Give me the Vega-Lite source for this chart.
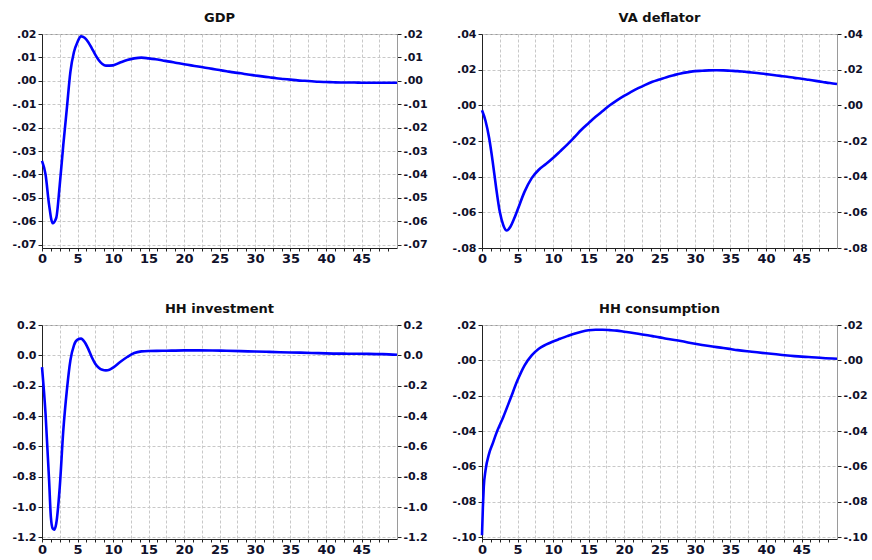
{
  "$schema": "https://vega.github.io/schema/vega-lite/v6.json",
  "background": "white",
  "padding": {"left": 11, "top": 11, "right": 5, "bottom": 5},
  "config": {
    "font": "DejaVu Sans",
    "view": {"stroke": "#9a9a9a", "strokeWidth": 1},
    "title": {"font": "DejaVu Sans", "fontSize": 13, "fontWeight": "bold", "color": "#111111", "anchor": "middle", "frame": "group", "offset": 3},
    "axis": {
      "labelFont": "DejaVu Sans",
      "labelFontSize": 11,
      "labelFontWeight": "bold",
      "labelColor": "#10102a",
      "tickColor": "#222222",
      "tickSize": 4,
      "domainColor": "#222222",
      "gridColor": "#c8c8c8",
      "gridDash": [3, 2],
      "gridWidth": 1,
      "title": null,
      "labelOverlap": false,
      "labelBound": false,
      "labelFlush": false
    },
    "line": {"color": "#0000ff", "strokeWidth": 2.6, "interpolate": "monotone"}
  },
  "datasets": {
    "gdp": [
      {"t": 0, "v": -0.0342}, {"t": 0.5, "v": -0.0400}, {"t": 1, "v": -0.0530}, {"t": 1.5, "v": -0.0608},
      {"t": 2, "v": -0.0586}, {"t": 2.5, "v": -0.0444}, {"t": 3, "v": -0.0274}, {"t": 3.5, "v": -0.0118},
      {"t": 4, "v": 0.0038}, {"t": 4.5, "v": 0.0123}, {"t": 5, "v": 0.0166}, {"t": 5.5, "v": 0.0190},
      {"t": 6, "v": 0.0184}, {"t": 6.5, "v": 0.0166}, {"t": 7, "v": 0.0140}, {"t": 7.5, "v": 0.0112},
      {"t": 8, "v": 0.0088}, {"t": 8.5, "v": 0.0072}, {"t": 9, "v": 0.0065}, {"t": 10, "v": 0.0066},
      {"t": 11, "v": 0.0078}, {"t": 12, "v": 0.0089}, {"t": 13, "v": 0.0096}, {"t": 14, "v": 0.0099},
      {"t": 15, "v": 0.0096}, {"t": 16, "v": 0.0092}, {"t": 17, "v": 0.0087}, {"t": 18, "v": 0.0082},
      {"t": 19, "v": 0.0076}, {"t": 20, "v": 0.0071}, {"t": 21, "v": 0.0066}, {"t": 22, "v": 0.0061},
      {"t": 23, "v": 0.0056}, {"t": 24, "v": 0.0051}, {"t": 25, "v": 0.0046}, {"t": 26, "v": 0.0041},
      {"t": 27, "v": 0.0036}, {"t": 28, "v": 0.0032}, {"t": 29, "v": 0.0027}, {"t": 30, "v": 0.0023},
      {"t": 31, "v": 0.0019}, {"t": 32, "v": 0.0015}, {"t": 33, "v": 0.0011}, {"t": 34, "v": 0.0008},
      {"t": 35, "v": 0.0005}, {"t": 36, "v": 0.0002}, {"t": 37, "v": 0.0000}, {"t": 38, "v": -0.0002},
      {"t": 39, "v": -0.0004}, {"t": 40, "v": -0.0005}, {"t": 41, "v": -0.0006}, {"t": 42, "v": -0.0007},
      {"t": 43, "v": -0.0007}, {"t": 44, "v": -0.0007}, {"t": 45, "v": -0.0008}, {"t": 46, "v": -0.0008},
      {"t": 47, "v": -0.0008}, {"t": 48, "v": -0.0008}, {"t": 49, "v": -0.0008}, {"t": 50, "v": -0.0008}
    ],
    "va": [
      {"t": 0, "v": -0.0028}, {"t": 0.5, "v": -0.0088}, {"t": 1, "v": -0.0182}, {"t": 1.5, "v": -0.0314},
      {"t": 2, "v": -0.0465}, {"t": 2.5, "v": -0.0596}, {"t": 3, "v": -0.0672}, {"t": 3.5, "v": -0.0702},
      {"t": 4, "v": -0.0681}, {"t": 4.5, "v": -0.0638}, {"t": 5, "v": -0.0587}, {"t": 6, "v": -0.0484},
      {"t": 7, "v": -0.0408}, {"t": 8, "v": -0.0361}, {"t": 9, "v": -0.0329}, {"t": 10, "v": -0.0295},
      {"t": 11, "v": -0.0258}, {"t": 12, "v": -0.0220}, {"t": 13, "v": -0.0179}, {"t": 14, "v": -0.0137},
      {"t": 15, "v": -0.0100}, {"t": 16, "v": -0.0064}, {"t": 17, "v": -0.0032}, {"t": 18, "v": 0.0000},
      {"t": 19, "v": 0.0028}, {"t": 20, "v": 0.0053}, {"t": 21, "v": 0.0075}, {"t": 22, "v": 0.0096},
      {"t": 23, "v": 0.0115}, {"t": 24, "v": 0.0132}, {"t": 25, "v": 0.0145}, {"t": 26, "v": 0.0158},
      {"t": 27, "v": 0.0169}, {"t": 28, "v": 0.0179}, {"t": 29, "v": 0.0186}, {"t": 30, "v": 0.0192},
      {"t": 31, "v": 0.0194}, {"t": 32, "v": 0.0196}, {"t": 33, "v": 0.0197}, {"t": 34, "v": 0.0196},
      {"t": 35, "v": 0.0194}, {"t": 36, "v": 0.0192}, {"t": 37, "v": 0.0188}, {"t": 38, "v": 0.0184},
      {"t": 39, "v": 0.0180}, {"t": 40, "v": 0.0175}, {"t": 41, "v": 0.0170}, {"t": 42, "v": 0.0165},
      {"t": 43, "v": 0.0160}, {"t": 44, "v": 0.0154}, {"t": 45, "v": 0.0149}, {"t": 46, "v": 0.0143},
      {"t": 47, "v": 0.0137}, {"t": 48, "v": 0.0131}, {"t": 49, "v": 0.0125}, {"t": 50, "v": 0.0120}
    ],
    "inv": [
      {"t": 0, "v": -0.077}, {"t": 0.5, "v": -0.385}, {"t": 1, "v": -0.824}, {"t": 1.25, "v": -1.066},
      {"t": 1.5, "v": -1.140}, {"t": 1.75, "v": -1.148}, {"t": 2, "v": -1.110}, {"t": 2.5, "v": -0.868},
      {"t": 3, "v": -0.495}, {"t": 3.5, "v": -0.231}, {"t": 4, "v": -0.033}, {"t": 4.5, "v": 0.066},
      {"t": 5, "v": 0.103}, {"t": 5.5, "v": 0.110}, {"t": 6, "v": 0.088}, {"t": 6.5, "v": 0.044},
      {"t": 7, "v": -0.011}, {"t": 7.5, "v": -0.055}, {"t": 8, "v": -0.081}, {"t": 8.5, "v": -0.095},
      {"t": 9, "v": -0.099}, {"t": 9.5, "v": -0.095}, {"t": 10, "v": -0.081}, {"t": 11, "v": -0.044},
      {"t": 12, "v": -0.011}, {"t": 13, "v": 0.015}, {"t": 14, "v": 0.026}, {"t": 15, "v": 0.029},
      {"t": 17, "v": 0.030}, {"t": 20, "v": 0.033}, {"t": 22, "v": 0.033}, {"t": 24, "v": 0.032},
      {"t": 26, "v": 0.030}, {"t": 28, "v": 0.028}, {"t": 30, "v": 0.025}, {"t": 32, "v": 0.023},
      {"t": 35, "v": 0.019}, {"t": 38, "v": 0.016}, {"t": 40, "v": 0.013}, {"t": 43, "v": 0.011},
      {"t": 46, "v": 0.010}, {"t": 48, "v": 0.008}, {"t": 50, "v": 0.004}
    ],
    "cons": [
      {"t": 0, "v": -0.0989}, {"t": 0.125, "v": -0.0830}, {"t": 0.25, "v": -0.0716}, {"t": 0.5, "v": -0.0621},
      {"t": 1, "v": -0.0527}, {"t": 1.5, "v": -0.0471}, {"t": 2, "v": -0.0414}, {"t": 3, "v": -0.0320},
      {"t": 4, "v": -0.0217}, {"t": 5, "v": -0.0113}, {"t": 6, "v": -0.0028}, {"t": 7, "v": 0.0028},
      {"t": 8, "v": 0.0066}, {"t": 9, "v": 0.0089}, {"t": 10, "v": 0.0107}, {"t": 11, "v": 0.0122},
      {"t": 12, "v": 0.0137}, {"t": 13, "v": 0.0151}, {"t": 14, "v": 0.0162}, {"t": 15, "v": 0.0170},
      {"t": 16, "v": 0.0173}, {"t": 17, "v": 0.0173}, {"t": 18, "v": 0.0171}, {"t": 19, "v": 0.0168},
      {"t": 20, "v": 0.0162}, {"t": 22, "v": 0.0151}, {"t": 24, "v": 0.0137}, {"t": 25, "v": 0.0130},
      {"t": 26, "v": 0.0122}, {"t": 28, "v": 0.0109}, {"t": 30, "v": 0.0094}, {"t": 32, "v": 0.0081},
      {"t": 34, "v": 0.0070}, {"t": 35, "v": 0.0064}, {"t": 36, "v": 0.0058}, {"t": 38, "v": 0.0049},
      {"t": 40, "v": 0.0040}, {"t": 42, "v": 0.0032}, {"t": 44, "v": 0.0024}, {"t": 45, "v": 0.0021},
      {"t": 46, "v": 0.0019}, {"t": 48, "v": 0.0013}, {"t": 50, "v": 0.0009}
    ]
  },
  "columns": 2,
  "bounds": "flush",
  "spacing": {"row": 77, "column": 85},
  "concat": [
    {
      "title": "GDP",
      "width": 355,
      "height": 214,
      "data": {"name": "gdp"},
      "layer": [
        {
          "mark": {"type": "line"},
          "encoding": {
            "x": {"field": "t", "type": "quantitative",
              "scale": {"domain": [0, 50], "nice": false, "zero": false},
              "axis": {"orient": "bottom", "values": [0, 1.25, 2.5, 3.75, 5, 6.25, 7.5, 8.75, 10, 11.25, 12.5, 13.75, 15, 16.25, 17.5, 18.75, 20, 21.25, 22.5, 23.75, 25, 26.25, 27.5, 28.75, 30, 31.25, 32.5, 33.75, 35, 36.25, 37.5, 38.75, 40, 41.25, 42.5, 43.75, 45, 46.25, 47.5, 48.75],
                "labelExpr": "datum.value % 5 === 0 ? datum.label : ''", "labelFontSize": 13, "labelPadding": 1, "tickSize": 3, "grid": false}},
            "y": {"field": "v", "type": "quantitative",
              "scale": {"domain": [-0.0714, 0.02], "nice": false, "zero": false},
              "axis": {"orient": "left", "values": [-0.07, -0.06, -0.05, -0.04, -0.03, -0.02, -0.01, 0, 0.01, 0.02],
                "labelExpr": "(datum.value < -1e-9 ? '-' : '') + replace(format(abs(datum.value), '.2f'), '0.', '.')",
                "grid": true, "labelPadding": 2}}
          }
        },
        {
          "mark": {"type": "line", "strokeOpacity": 0},
          "encoding": {
            "x": {"field": "t", "type": "quantitative",
              "axis": {"orient": "bottom", "values": [2.5, 5, 7.5, 10, 12.5, 15, 17.5, 20, 22.5, 25, 27.5, 30, 32.5, 35, 37.5, 40, 42.5, 45, 47.5],
                "grid": true, "labels": false, "ticks": false, "domain": false}},
            "y": {"field": "v", "type": "quantitative",
              "axis": {"orient": "right", "values": [-0.07, -0.06, -0.05, -0.04, -0.03, -0.02, -0.01, 0, 0.01, 0.02],
                "labelExpr": "(datum.value < -1e-9 ? '-' : '') + replace(format(abs(datum.value), '.2f'), '0.', '.')",
                "grid": false, "domainColor": "#9a9a9a", "labelPadding": 2}}
          }
        }
      ],
      "resolve": {"axis": {"x": "independent", "y": "independent"}}
    },
    {
      "title": "VA deflator",
      "width": 355,
      "height": 214,
      "data": {"name": "va"},
      "layer": [
        {
          "mark": {"type": "line"},
          "encoding": {
            "x": {"field": "t", "type": "quantitative",
              "scale": {"domain": [0, 50], "nice": false, "zero": false},
              "axis": {"orient": "bottom", "values": [0, 1.25, 2.5, 3.75, 5, 6.25, 7.5, 8.75, 10, 11.25, 12.5, 13.75, 15, 16.25, 17.5, 18.75, 20, 21.25, 22.5, 23.75, 25, 26.25, 27.5, 28.75, 30, 31.25, 32.5, 33.75, 35, 36.25, 37.5, 38.75, 40, 41.25, 42.5, 43.75, 45, 46.25, 47.5, 48.75],
                "labelExpr": "datum.value % 5 === 0 ? datum.label : ''", "labelFontSize": 13, "labelPadding": 1, "tickSize": 3, "grid": false}},
            "y": {"field": "v", "type": "quantitative",
              "scale": {"domain": [-0.08, 0.04], "nice": false, "zero": false},
              "axis": {"orient": "left", "values": [-0.08, -0.06, -0.04, -0.02, 0, 0.02, 0.04],
                "labelExpr": "(datum.value < -1e-9 ? '-' : '') + replace(format(abs(datum.value), '.2f'), '0.', '.')",
                "grid": true, "labelPadding": 2}}
          }
        },
        {
          "mark": {"type": "line", "strokeOpacity": 0},
          "encoding": {
            "x": {"field": "t", "type": "quantitative",
              "axis": {"orient": "bottom", "values": [2.5, 5, 7.5, 10, 12.5, 15, 17.5, 20, 22.5, 25, 27.5, 30, 32.5, 35, 37.5, 40, 42.5, 45, 47.5],
                "grid": true, "labels": false, "ticks": false, "domain": false}},
            "y": {"field": "v", "type": "quantitative",
              "axis": {"orient": "right", "values": [-0.08, -0.06, -0.04, -0.02, 0, 0.02, 0.04],
                "labelExpr": "(datum.value < -1e-9 ? '-' : '') + replace(format(abs(datum.value), '.2f'), '0.', '.')",
                "grid": false, "domainColor": "#9a9a9a", "labelPadding": 2}}
          }
        }
      ],
      "resolve": {"axis": {"x": "independent", "y": "independent"}}
    },
    {
      "title": "HH investment",
      "width": 355,
      "height": 214,
      "data": {"name": "inv"},
      "layer": [
        {
          "mark": {"type": "line"},
          "encoding": {
            "x": {"field": "t", "type": "quantitative",
              "scale": {"domain": [0, 50], "nice": false, "zero": false},
              "axis": {"orient": "bottom", "values": [0, 1.25, 2.5, 3.75, 5, 6.25, 7.5, 8.75, 10, 11.25, 12.5, 13.75, 15, 16.25, 17.5, 18.75, 20, 21.25, 22.5, 23.75, 25, 26.25, 27.5, 28.75, 30, 31.25, 32.5, 33.75, 35, 36.25, 37.5, 38.75, 40, 41.25, 42.5, 43.75, 45, 46.25, 47.5, 48.75],
                "labelExpr": "datum.value % 5 === 0 ? datum.label : ''", "labelFontSize": 13, "labelPadding": 1, "tickSize": 3, "grid": false}},
            "y": {"field": "v", "type": "quantitative",
              "scale": {"domain": [-1.21, 0.2], "nice": false, "zero": false},
              "axis": {"orient": "left", "values": [-1.2, -1.0, -0.8, -0.6, -0.4, -0.2, 0, 0.2],
                "labelExpr": "(datum.value < -1e-9 ? '-' : '') + format(abs(datum.value), '.1f')",
                "grid": true, "labelPadding": 2}}
          }
        },
        {
          "mark": {"type": "line", "strokeOpacity": 0},
          "encoding": {
            "x": {"field": "t", "type": "quantitative",
              "axis": {"orient": "bottom", "values": [2.5, 5, 7.5, 10, 12.5, 15, 17.5, 20, 22.5, 25, 27.5, 30, 32.5, 35, 37.5, 40, 42.5, 45, 47.5],
                "grid": true, "labels": false, "ticks": false, "domain": false}},
            "y": {"field": "v", "type": "quantitative",
              "axis": {"orient": "right", "values": [-1.2, -1.0, -0.8, -0.6, -0.4, -0.2, 0, 0.2],
                "labelExpr": "(datum.value < -1e-9 ? '-' : '') + format(abs(datum.value), '.1f')",
                "grid": false, "domainColor": "#9a9a9a", "labelPadding": 2}}
          }
        }
      ],
      "resolve": {"axis": {"x": "independent", "y": "independent"}}
    },
    {
      "title": "HH consumption",
      "width": 355,
      "height": 214,
      "data": {"name": "cons"},
      "layer": [
        {
          "mark": {"type": "line"},
          "encoding": {
            "x": {"field": "t", "type": "quantitative",
              "scale": {"domain": [0, 50], "nice": false, "zero": false},
              "axis": {"orient": "bottom", "values": [0, 1.25, 2.5, 3.75, 5, 6.25, 7.5, 8.75, 10, 11.25, 12.5, 13.75, 15, 16.25, 17.5, 18.75, 20, 21.25, 22.5, 23.75, 25, 26.25, 27.5, 28.75, 30, 31.25, 32.5, 33.75, 35, 36.25, 37.5, 38.75, 40, 41.25, 42.5, 43.75, 45, 46.25, 47.5, 48.75],
                "labelExpr": "datum.value % 5 === 0 ? datum.label : ''", "labelFontSize": 13, "labelPadding": 1, "tickSize": 3, "grid": false}},
            "y": {"field": "v", "type": "quantitative",
              "scale": {"domain": [-0.101, 0.02], "nice": false, "zero": false},
              "axis": {"orient": "left", "values": [-0.1, -0.08, -0.06, -0.04, -0.02, 0, 0.02],
                "labelExpr": "(datum.value < -1e-9 ? '-' : '') + replace(format(abs(datum.value), '.2f'), '0.', '.')",
                "grid": true, "labelPadding": 2}}
          }
        },
        {
          "mark": {"type": "line", "strokeOpacity": 0},
          "encoding": {
            "x": {"field": "t", "type": "quantitative",
              "axis": {"orient": "bottom", "values": [2.5, 5, 7.5, 10, 12.5, 15, 17.5, 20, 22.5, 25, 27.5, 30, 32.5, 35, 37.5, 40, 42.5, 45, 47.5],
                "grid": true, "labels": false, "ticks": false, "domain": false}},
            "y": {"field": "v", "type": "quantitative",
              "axis": {"orient": "right", "values": [-0.1, -0.08, -0.06, -0.04, -0.02, 0, 0.02],
                "labelExpr": "(datum.value < -1e-9 ? '-' : '') + replace(format(abs(datum.value), '.2f'), '0.', '.')",
                "grid": false, "domainColor": "#9a9a9a", "labelPadding": 2}}
          }
        }
      ],
      "resolve": {"axis": {"x": "independent", "y": "independent"}}
    }
  ]
}
